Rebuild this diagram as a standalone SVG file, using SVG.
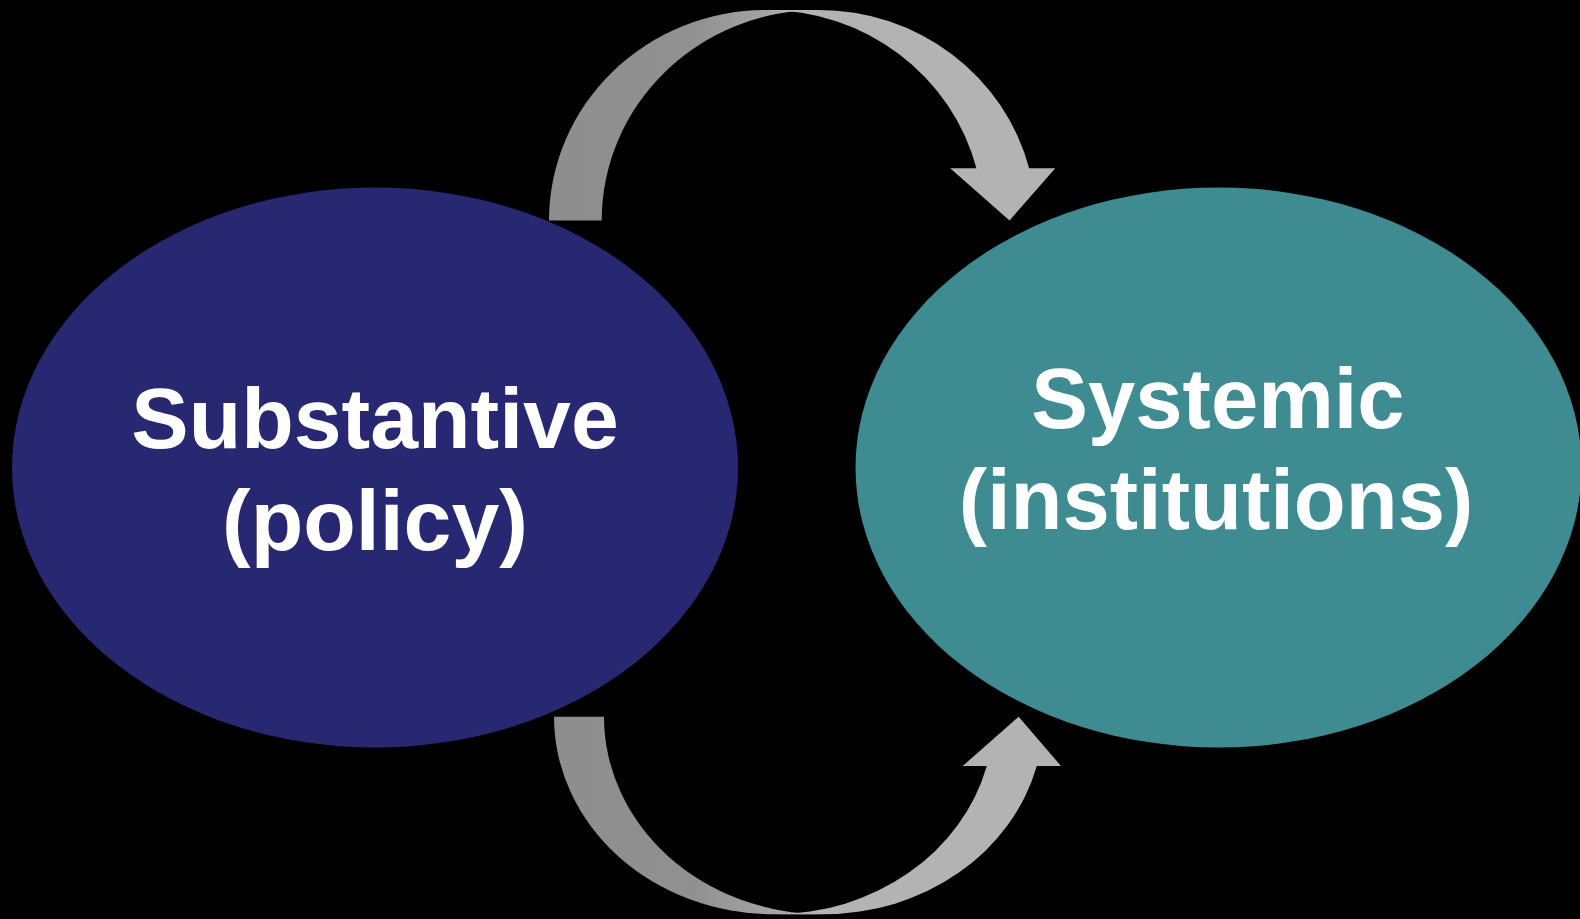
<svg xmlns="http://www.w3.org/2000/svg" width="1580" height="919" viewBox="0 0 1580 919">
  <defs>
    <style>
      .label { font-family: "Liberation Sans", Arial, sans-serif; font-weight: bold; fill: #ffffff; text-anchor: middle; }
      .arrow-main { fill: #b3b3b3; }
    </style>
    <!-- tail part of each curved arrow: darker grey, brightening toward the crest -->
    <linearGradient id="tailTop" gradientUnits="userSpaceOnUse" x1="549" y1="0" x2="800" y2="0">
      <stop offset="0" stop-color="#8e8e8e"/>
      <stop offset="0.55" stop-color="#909090"/>
      <stop offset="1" stop-color="#acacac"/>
    </linearGradient>
    <linearGradient id="tailBottom" gradientUnits="userSpaceOnUse" x1="554" y1="0" x2="805" y2="0">
      <stop offset="0" stop-color="#8e8e8e"/>
      <stop offset="0.55" stop-color="#909090"/>
      <stop offset="1" stop-color="#acacac"/>
    </linearGradient>
  </defs>

  <rect x="0" y="0" width="1580" height="919" fill="#000000"/>

  <g id="node-substantive">
    <ellipse cx="375" cy="467.5" rx="363" ry="280" fill="#282872"/>
    <text class="label" x="375" y="448" font-size="86">Substantive</text>
    <text class="label" x="375" y="550" font-size="86">(policy)</text>
  </g>

  <g id="node-systemic">
    <ellipse cx="1218.5" cy="467.5" rx="363" ry="280" fill="#3e8b92"/>
    <text class="label" x="1218" y="428" font-size="85">Systemic</text>
    <text class="label" x="1216" y="529" font-size="85">(institutions)</text>
  </g>

  <g id="connectors">
    <!-- upper curved arrow: Substantive to Systemic -->
    <g id="arrow-top">
      <path fill="url(#tailTop)" d="M818.8,10 A217.1,210.5 0 0 0 601.7,220.5 L549,220.5 A217.1,210.5 0 0 1 766.1,10 Z"/>
      <path class="arrow-main" d="M1009.5,220.5 L950.2,168.2 L976.4,168.2 A217.1,210.5 0 0 0 766.1,10 L818.8,10 A217.1,210.5 0 0 1 1029.1,168.2 L1055.3,168.2 Z"/>
    </g>
    <!-- lower curved arrow: Substantive to Systemic -->
    <g id="arrow-bottom">
      <path fill="url(#tailBottom)" d="M823.9,914.3 A219.9,197.6 0 0 1 604,716.7 L554,716.7 A219.9,197.6 0 0 0 773.9,914.3 Z"/>
      <path class="arrow-main" d="M1018.7,716.7 L1061,766 L1036.8,766 A219.9,197.6 0 0 1 823.9,914.3 L773.9,914.3 A219.9,197.6 0 0 0 986.8,766 L962.7,766 Z"/>
    </g>
  </g>
</svg>
